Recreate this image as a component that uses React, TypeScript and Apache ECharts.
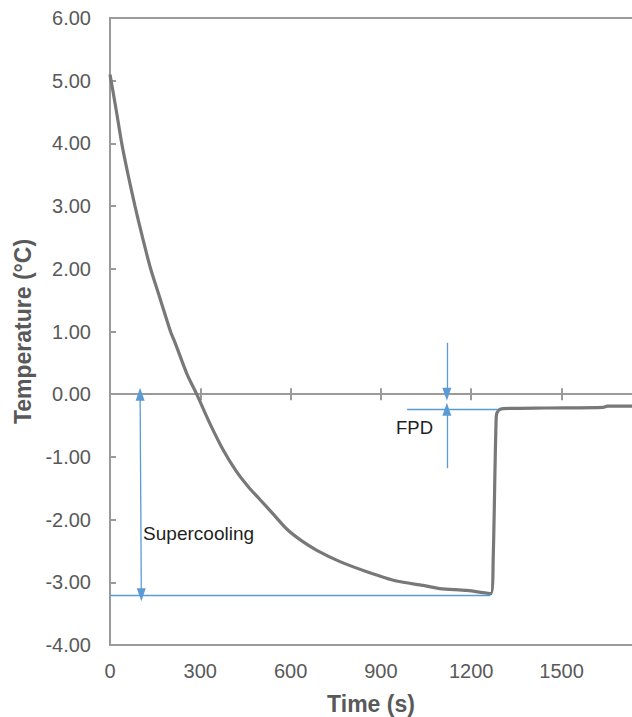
import React, { useEffect, useRef } from "react";
import * as echarts from "echarts";

// Cooling curve of the sample: time (s) and temperature (°C)
const timeS = [
  0, 20, 39, 60, 83, 108, 135, 168, 201, 217, 255, 288, 332, 376, 421, 460,
  498, 540, 587, 637, 687, 764, 853, 952, 1041, 1096, 1185, 1265, 1273, 1283,
  1290, 1305, 1450, 1638, 1652, 1734,
];
const tempC = [
  5.1, 4.55, 4.0, 3.5, 3.0, 2.5, 2.0, 1.5, 1.0, 0.81, 0.33, 0.0, -0.47, -0.89,
  -1.24, -1.48, -1.68, -1.9, -2.15, -2.34, -2.49, -2.67, -2.83, -2.98, -3.05,
  -3.1, -3.13, -3.18, -2.6, -0.36, -0.26, -0.23, -0.22, -0.21, -0.19, -0.19,
];

// Axis ranges and tick positions
const X_MIN = 0;
const X_MAX = 1734;
const X_STEP = 300;
const xTickValues = [0, 300, 600, 900, 1200, 1500];
const Y_MIN = -4;
const Y_MAX = 6;
const Y_STEP = 1;

// Annotation values
const supercoolTemp = -3.2;
const nucleationTime = 1263;
const supercoolArrowTime = [100, 104];
const fpdTemp = -0.24;
const fpdLineStart = 987;
const fpdLineEnd = 1289;
const fpdArrowTime = 1119;
const fpdArrowTop = 0.82;
const fpdArrowBottom = -1.18;
const supercoolLabel = { text: "Supercooling", time: 110, temp: -2.22 };
const fpdLabel = { text: "FPD", time: 950, temp: -0.53 };

const AXIS_COLOR = "#9a9a9a";
const TEXT_COLOR = "#595959";
const BLUE = "#5b9bd5";
const FONT = "'Liberation Sans', Arial, sans-serif";

export default function App() {
  const ref = useRef<HTMLDivElement>(null);

  useEffect(() => {
    if (!ref.current) return;
    const chart = echarts.init(ref.current, undefined, { renderer: "svg" });

    const baseX = {
      type: "value" as const,
      min: X_MIN,
      max: X_MAX,
      interval: X_STEP,
      splitLine: { show: false },
    };

    const blueLine = { color: BLUE, width: 1.3, type: "solid" as const };
    const arrowHead = { symbol: "triangle", symbolSize: [9, 13] };

    chart.setOption({
      animation: false,
      backgroundColor: "#ffffff",
      textStyle: { fontFamily: FONT },
      grid: {
        left: 110,
        top: 18,
        right: 0,
        bottom: 72,
        containLabel: false,
        outerBoundsMode: "none",
      },
      xAxis: [
        {
          ...baseX,
          position: "bottom",
          name: "Time (s)",
          nameLocation: "middle",
          nameGap: 47,
          nameTextStyle: {
            fontSize: 23,
            fontWeight: "bold",
            color: TEXT_COLOR,
            fontFamily: FONT,
          },
          axisLine: {
            show: true,
            onZero: false,
            lineStyle: { color: AXIS_COLOR, width: 2 },
          },
          axisTick: { show: false },
          axisLabel: {
            show: true,
            fontSize: 20,
            color: TEXT_COLOR,
            fontFamily: FONT,
            margin: 16,
            customValues: xTickValues,
            formatter: (v: number) => String(v),
          },
        },
        {
          ...baseX,
          position: "bottom",
          axisLine: {
            show: true,
            onZero: true,
            onZeroAxisIndex: 0,
            lineStyle: { color: AXIS_COLOR, width: 2 },
          },
          axisTick: {
            show: true,
            inside: true,
            length: 6,
            customValues: xTickValues,
            lineStyle: { color: AXIS_COLOR, width: 2 },
          },
          axisLabel: { show: false },
        },
        {
          ...baseX,
          position: "bottom",
          axisLine: {
            show: false,
            onZero: true,
            onZeroAxisIndex: 0,
          },
          axisTick: {
            show: true,
            inside: false,
            length: 6,
            customValues: xTickValues,
            lineStyle: { color: AXIS_COLOR, width: 2 },
          },
          axisLabel: { show: false },
        },
        {
          ...baseX,
          position: "top",
          axisLine: {
            show: true,
            onZero: false,
            lineStyle: { color: AXIS_COLOR, width: 2 },
          },
          axisTick: { show: false },
          axisLabel: { show: false },
        },
      ],
      yAxis: {
        type: "value",
        min: Y_MIN,
        max: Y_MAX,
        interval: Y_STEP,
        position: "left",
        name: "Temperature (°C)",
        nameLocation: "middle",
        nameGap: 76,
        nameTextStyle: {
          fontSize: 23,
          fontWeight: "bold",
          color: TEXT_COLOR,
          fontFamily: FONT,
        },
        splitLine: { show: false },
        axisLine: {
          show: true,
          onZero: false,
          lineStyle: { color: AXIS_COLOR, width: 2 },
        },
        axisTick: {
          show: true,
          inside: true,
          length: 6,
          lineStyle: { color: AXIS_COLOR, width: 2 },
        },
        axisLabel: {
          fontSize: 20,
          color: TEXT_COLOR,
          fontFamily: FONT,
          margin: 19,
          formatter: (v: number) => v.toFixed(2),
        },
      },
      series: [
        {
          name: "Temperature",
          type: "line",
          xAxisIndex: 0,
          data: timeS.map((t, i) => [t, tempC[i]]),
          showSymbol: false,
          symbol: "none",
          smooth: 0.25,
          lineStyle: { color: "#787878", width: 3.2 },
          z: 3,
        },
        {
          name: "annotations",
          type: "line",
          xAxisIndex: 0,
          data: [],
          silent: true,
          z: 2,
          markLine: {
            silent: true,
            animation: false,
            label: { show: false },
            emphasis: { disabled: true },
            lineStyle: blueLine,
            data: [
              // supercooling level
              [
                { coord: [X_MIN, supercoolTemp], symbol: "none" },
                { coord: [nucleationTime, supercoolTemp], symbol: "none" },
              ],
              // supercooling double arrow
              [
                { coord: [supercoolArrowTime[0], 0], ...arrowHead },
                { coord: [supercoolArrowTime[1], supercoolTemp], ...arrowHead },
              ],
              // freezing plateau level
              [
                { coord: [fpdLineStart, fpdTemp], symbol: "none" },
                { coord: [fpdLineEnd, fpdTemp], symbol: "none" },
              ],
              // FPD arrow from above
              [
                { coord: [fpdArrowTime, fpdArrowTop], symbol: "none" },
                { coord: [fpdArrowTime, 0], ...arrowHead },
              ],
              // FPD arrow from below
              [
                { coord: [fpdArrowTime, fpdArrowBottom], symbol: "none" },
                { coord: [fpdArrowTime, fpdTemp], ...arrowHead },
              ],
            ],
          },
          markPoint: {
            silent: true,
            animation: false,
            symbol: "circle",
            symbolSize: 0,
            itemStyle: { color: "transparent" },
            label: {
              show: true,
              position: "right",
              distance: 0,
              color: "#1f1f1f",
              fontFamily: FONT,
              formatter: (p: any) => p.name,
            },
            data: [
              {
                name: supercoolLabel.text,
                coord: [supercoolLabel.time, supercoolLabel.temp],
                label: { fontSize: 19 },
              },
              {
                name: fpdLabel.text,
                coord: [fpdLabel.time, fpdLabel.temp],
                label: { fontSize: 18.5 },
              },
            ],
          },
        },
      ],
    });

    return () => chart.dispose();
  }, []);

  return (
    <div
      ref={ref}
      style={{ position: "fixed", left: 0, top: 0, width: 632, height: 717 }}
    />
  );
}
